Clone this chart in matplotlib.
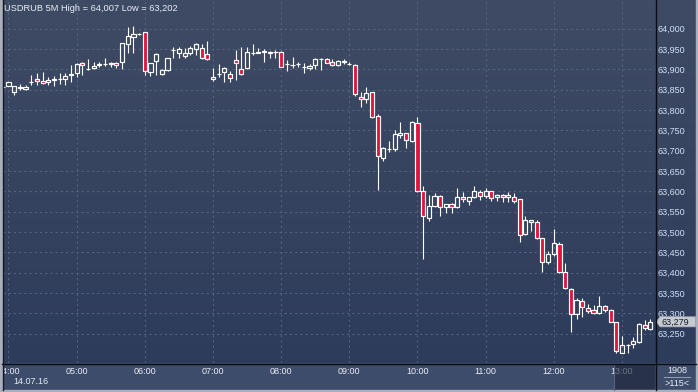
import matplotlib
matplotlib.use("Agg")
import matplotlib.pyplot as plt
import numpy as np
import pandas as pd
from matplotlib.colors import LinearSegmentedColormap
from matplotlib.patches import Rectangle, Polygon

plt.rcParams["font.family"] = ["Liberation Sans", "DejaVu Sans"]

# USDRUB 5M candles, 14.07.16, first bar 03:55
opens = [63.856, 63.860, 63.844, 63.855, 63.851, 63.868, 63.876, 63.871, 63.868, 63.875,
         63.876, 63.876, 63.887, 63.890, 63.915, 63.901, 63.903, 63.911, 63.913, 63.914,
         63.915, 63.917, 63.962, 63.979, 63.986, 63.991, 63.894, 63.921, 63.888, 63.898,
         63.947, 63.940, 63.934, 63.941, 63.949, 63.952, 63.937, 63.876, 63.888, 63.893,
         63.888, 63.922, 63.900, 63.903, 63.940, 63.941, 63.943, 63.940, 63.943, 63.943,
         63.913, 63.911, 63.912, 63.906, 63.903, 63.911, 63.925, 63.925, 63.919, 63.911,
         63.919, 63.914, 63.911, 63.833, 63.826, 63.844, 63.785, 63.683, 63.704, 63.704,
         63.738, 63.743, 63.724, 63.767, 63.601, 63.535, 63.565, 63.589, 63.561, 63.568,
         63.562, 63.585, 63.577, 63.585, 63.598, 63.588, 63.601, 63.585, 63.591, 63.587,
         63.587, 63.580, 63.494, 63.529, 63.524, 63.484, 63.425, 63.447, 63.470, 63.402,
         63.359, 63.297, 63.330, 63.312, 63.308, 63.300, 63.318, 63.308, 63.278, 63.203,
         63.222, 63.224, 63.230, 63.271, 63.261]
highs = [63.859, 63.869, 63.860, 63.863, 63.861, 63.886, 63.892, 63.893, 63.882, 63.884,
         63.890, 63.890, 63.911, 63.915, 63.917, 63.925, 63.919, 63.919, 63.927, 63.919,
         63.919, 63.966, 64.005, 64.007, 63.990, 63.992, 63.916, 63.940, 63.902, 63.929,
         63.956, 63.954, 63.952, 63.957, 63.966, 63.962, 63.970, 63.904, 63.912, 63.906,
         63.896, 63.948, 63.954, 63.954, 63.962, 63.952, 63.949, 63.945, 63.948, 63.945,
         63.923, 63.930, 63.917, 63.916, 63.913, 63.927, 63.927, 63.929, 63.925, 63.923,
         63.925, 63.919, 63.912, 63.845, 63.856, 63.845, 63.789, 63.710, 63.724, 63.751,
         63.770, 63.744, 63.773, 63.782, 63.613, 63.591, 63.595, 63.591, 63.569, 63.572,
         63.608, 63.598, 63.587, 63.613, 63.603, 63.607, 63.601, 63.593, 63.593, 63.599,
         63.595, 63.581, 63.539, 63.530, 63.529, 63.485, 63.453, 63.507, 63.475, 63.423,
         63.361, 63.338, 63.337, 63.322, 63.320, 63.342, 63.320, 63.310, 63.279, 63.245,
         63.224, 63.242, 63.275, 63.283, 63.286]
lows = [63.853, 63.858, 63.837, 63.848, 63.848, 63.862, 63.862, 63.863, 63.862, 63.859,
        63.863, 63.862, 63.870, 63.880, 63.886, 63.898, 63.901, 63.906, 63.908, 63.906,
        63.903, 63.900, 63.940, 63.940, 63.984, 63.886, 63.884, 63.886, 63.886, 63.897,
        63.927, 63.927, 63.929, 63.935, 63.935, 63.925, 63.923, 63.872, 63.880, 63.870,
        63.870, 63.874, 63.886, 63.900, 63.935, 63.940, 63.919, 63.927, 63.927, 63.905,
        63.897, 63.903, 63.905, 63.892, 63.898, 63.900, 63.898, 63.915, 63.909, 63.909,
        63.912, 63.911, 63.835, 63.808, 63.818, 63.781, 63.603, 63.675, 63.697, 63.699,
        63.732, 63.707, 63.722, 63.599, 63.434, 63.528, 63.562, 63.540, 63.547, 63.546,
        63.560, 63.574, 63.566, 63.583, 63.579, 63.584, 63.577, 63.576, 63.574, 63.574,
        63.572, 63.476, 63.492, 63.502, 63.483, 63.402, 63.420, 63.442, 63.400, 63.360,
        63.255, 63.286, 63.290, 63.301, 63.298, 63.297, 63.302, 63.278, 63.202, 63.202,
        63.203, 63.215, 63.228, 63.259, 63.259]
closes = [63.856, 63.868, 63.859, 63.856, 63.856, 63.870, 63.871, 63.866, 63.874, 63.876,
          63.877, 63.884, 63.888, 63.913, 63.910, 63.901, 63.909, 63.912, 63.914, 63.915,
          63.911, 63.964, 63.982, 63.986, 63.987, 63.897, 63.915, 63.938, 63.898, 63.927,
          63.948, 63.949, 63.941, 63.952, 63.962, 63.927, 63.925, 63.882, 63.889, 63.903,
          63.878, 63.915, 63.888, 63.942, 63.941, 63.942, 63.944, 63.943, 63.943, 63.906,
          63.913, 63.911, 63.912, 63.906, 63.909, 63.925, 63.926, 63.916, 63.911, 63.921,
          63.920, 63.914, 63.839, 63.826, 63.841, 63.784, 63.688, 63.706, 63.705, 63.740,
          63.743, 63.726, 63.770, 63.601, 63.540, 63.564, 63.588, 63.562, 63.568, 63.561,
          63.585, 63.580, 63.585, 63.601, 63.588, 63.601, 63.583, 63.591, 63.587, 63.591,
          63.577, 63.492, 63.529, 63.524, 63.486, 63.425, 63.447, 63.472, 63.401, 63.361,
          63.297, 63.333, 63.315, 63.306, 63.300, 63.318, 63.308, 63.279, 63.208, 63.222,
          63.222, 63.232, 63.273, 63.265, 63.279]

hour_labels = ["04:00", "05:00", "06:00", "07:00", "08:00", "09:00", "10:00", "11:00", "12:00", "13:00"]
price_levels = [63.25, 63.30, 63.35, 63.40, 63.45, 63.50, 63.55, 63.60, 63.65,
                63.70, 63.75, 63.80, 63.85, 63.90, 63.95, 64.00]
date_label = "14.07.16"
bars_count = "1908"
bars_shown = ">115<"

W, H = 698, 392
BG_TOP = "#3f4b64"
BG_BOTTOM = "#2c3b5b"
STRIP = "#3d4c6a"
RED = "#e0143c"
WHITE = "#ffffff"
GRID = "#56647f"

times = pd.date_range("2016-07-14 03:55", periods=len(opens), freq="5min")
start = pd.Timestamp("2016-07-14 04:00")
xs = ((times - start) / pd.Timedelta(minutes=5)).to_numpy(dtype=float)
o, h, l, c = (np.array(a) for a in (opens, highs, lows, closes))

fig = plt.figure(figsize=(W / 100, H / 100), dpi=100)

# gradient background + axis strip
bg = fig.add_axes([0, 0, 1, 1], zorder=0)
bg.set_xlim(0, W)
bg.set_ylim(H, 0)
bg.axis("off")
cmap = LinearSegmentedColormap.from_list("bg", [BG_TOP, BG_BOTTOM])
bg.imshow(np.linspace(0, 1, 200).reshape(-1, 1), cmap=cmap, aspect="auto",
          extent=(0, W, H, 0), zorder=0)
bg.add_patch(Rectangle((0, 363), W, 27, color=STRIP, zorder=1))

ax = fig.add_axes([3 / W, 29 / H, 652 / W, 363 / H], zorder=1)
ax.patch.set_alpha(0)
for s in ax.spines.values():
    s.set_visible(False)
ax.set_xlim(-0.968, 113.82)
ax.set_ylim(63.1777, 64.0706)

hour_pos = [12 * i for i in range(len(hour_labels))]
ax.set_xticks(hour_pos, hour_labels)
ax.set_yticks(price_levels, [f"{v:.3f}".replace(".", ",") for v in price_levels])
ax.yaxis.tick_right()
ax.tick_params(axis="y", length=0, pad=1.6, labelsize=6.5, labelcolor="#cfe0f5")
ax.tick_params(axis="x", length=0, pad=2.6, labelsize=6.5, labelcolor="#e8edf5")
ax.grid(True, color=GRID, linestyle=(0, (2, 3)), linewidth=0.75)
ax.set_axisbelow(True)

w = 0.72
up = c >= o
top = np.maximum(o, c)
bot = np.minimum(o, c)
ax.vlines(xs, top, h, color=WHITE, linewidth=0.8, zorder=3)
ax.vlines(xs, l, bot, color=WHITE, linewidth=0.8, zorder=3)
for x, b, t, u in zip(xs, bot, top, up):
    ax.add_patch(Rectangle((x - w / 2, b), w, max(t - b, 0.0004),
                           facecolor="none" if u else RED, edgecolor=WHITE,
                           linewidth=0.85, zorder=4))

# current price tag
tr = ax.get_yaxis_transform()
last = c[-1]
dy = 0.0125
tag = Polygon([(1.0015, last), (1.0078, last + dy), (1.0625, last + dy),
               (1.0625, last - dy), (1.0078, last - dy)], closed=True,
              transform=tr, clip_on=False, facecolor="#c6cad2", edgecolor="#9aa0aa",
              linewidth=0.5, zorder=6)
ax.add_patch(tag)
ax.text(1.0095, last, f"{last:.3f}".replace(".", ","), transform=tr, fontsize=6.5,
        color="#1c1c1c", va="center", ha="left", clip_on=False, zorder=7)

# title and extras
fig.text(4 / W, 1 - 8.5 / H, f"USDRUB 5M High = {max(highs):.3f} Low = {min(lows):.3f}".replace(".", ","),
         fontsize=6.7, color="#e8eef6", va="center", ha="left", zorder=5)
fig.text(13 / W, 1 - 382 / H, date_label, fontsize=6.5, color="#e8edf5",
         va="center", ha="left", zorder=5)

ov = fig.add_axes([0, 0, 1, 1], zorder=2)
ov.set_xlim(0, W)
ov.set_ylim(H, 0)
ov.axis("off")
ov.patch.set_alpha(0)
ov.add_patch(Rectangle((613.5, 363.5), 41.5, 26.5, facecolor="#1a2137", alpha=0.6, edgecolor="none"))
ov.plot([613.8, 613.8], [363.5, 390], color="#59647c", linewidth=0.8)
ov.plot([655.5, 655.5], [0, 390], color="#0a0d14", linewidth=1.0)
ov.plot([2, 696], [363.5, 363.5], color="#0a0d14", linewidth=1.0)
ov.plot([2.5, 2.5], [0, 390], color="#141925", linewidth=1.0)
ov.add_patch(Rectangle((0, 0), 2, H, color="#a9b0bc"))
ov.add_patch(Rectangle((0, 390), W, 2, color="#a9b0bc"))
ov.add_patch(Rectangle((696, 0), 2, H, color="#a9b0bc"))
ov.plot([664, 690], [376.5, 376.5], color="#8f9ab0", linewidth=0.8)
ov.text(677, 370.5, bars_count, fontsize=6.5, color="#e8edf5", ha="center", va="center")
ov.text(677, 383.5, bars_shown, fontsize=6.5, color="#e8edf5", ha="center", va="center")

fig.savefig("out.png", dpi=100)
